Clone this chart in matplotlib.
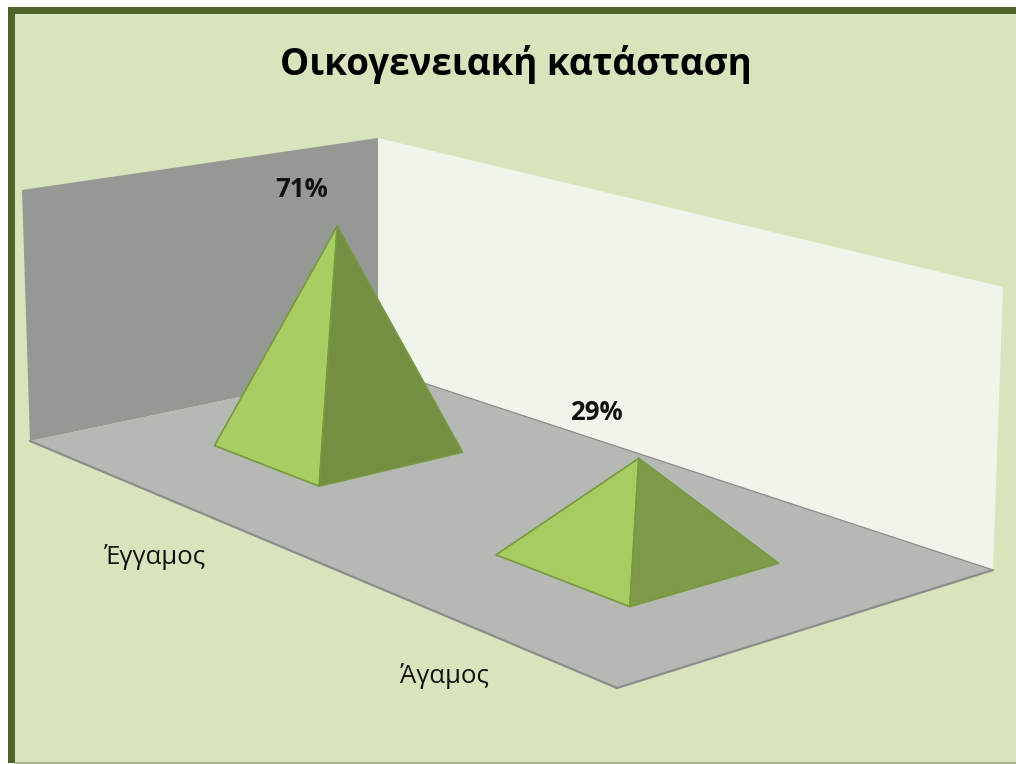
import matplotlib
matplotlib.use("Agg")
import matplotlib.pyplot as plt
from matplotlib.patches import Polygon, Rectangle

# ---- data ----
title = "Οικογενειακή κατάσταση"
categories = ["Έγγαμος", "Άγαμος"]
values = [71, 29]
axis_max = 80

# ---- layout / style ----
W, H = 1016, 764
floor_corners = [(30, 441), (617, 688), (993, 570), (378, 368)]
wall_left_top = (22, 190)
wall_back_top = (378, 138)
wall_right_top = (1003, 287)
slot_u = [0.25, 0.75]
slot_v = 0.503
half_u, half_v = 0.10, 0.20
persp_p, persp_q, persp_r = -7.56, -253.0, -0.02
label_shift = [(-36, -37), (-42, -46)]
cat_shift = [(4, 65), (4, 62)]

C_OUT = "#ffffff"; C_BG = "#d8e4bc"; C_BORDER = "#4f6228"
C_LWALL = "#969893"; C_RWALL = "#eff5eb"; C_FLOOR = "#b6b8b3"; C_FLOOR_EDGE = "#8b8d8c"
C_LIGHT = ["#a9cd62", "#a9cc62"]; C_DARK = ["#758f42", "#7f9b49"]; C_EDGE = "#759a3f"

# ---- projection fitted from the floor quadrilateral ----
(x0, y0), (x1, y1), (x2, y2), (x3, y3) = floor_corners
dx1, dx2, sx = x1 - x2, x3 - x2, x0 - x1 + x2 - x3
dy1, dy2, sy = y1 - y2, y3 - y2, y0 - y1 + y2 - y3
det = dx1 * dy2 - dx2 * dy1
g = (sx * dy2 - dx2 * sy) / det
h = (dx1 * sy - sx * dy1) / det
a, b, c = x1 - x0 + g * x1, x3 - x0 + h * x3, x0
d, e, f = y1 - y0 + g * y1, y3 - y0 + h * y3, y0


def project(u, v, value=0.0):
    z = value / axis_max
    w = g * u + h * v + 1 + persp_r * z
    return ((a * u + b * v + c + persp_p * z) / w,
            (d * u + e * v + f + persp_q * z) / w)


plt.rcParams["font.family"] = ["Open Sans", "Noto Sans", "DejaVu Sans"]
fig = plt.figure(figsize=(W / 100, H / 100), dpi=100, facecolor=C_OUT)
ax = fig.add_axes([0, 0, 1, 1])
ax.set_xlim(0, W)
ax.set_ylim(H, 0)
ax.axis("off")

# chart area
ax.add_patch(Rectangle((8, 7), W, H - 8, fc=C_BORDER, ec="none", zorder=0))
ax.add_patch(Rectangle((15, 14), W, H - 15.5, fc=C_BG, ec="none", zorder=1))
ax.plot([15, W], [763, 763], color="#9aa882", lw=1.2, zorder=1.5)

# walls and floor
back = floor_corners[3]
ax.add_patch(Polygon([wall_left_top, wall_back_top, back, floor_corners[0]], fc=C_LWALL, ec="none", zorder=2))
ax.add_patch(Polygon([wall_back_top, wall_right_top, floor_corners[2], back], fc=C_RWALL, ec="none", zorder=2))
ax.add_patch(Polygon(floor_corners, fc=C_FLOOR, ec="none", zorder=3))
ax.plot([floor_corners[0][0], floor_corners[1][0], floor_corners[2][0]],
        [floor_corners[0][1], floor_corners[1][1], floor_corners[2][1]],
        color=C_FLOOR_EDGE, lw=1.6, zorder=3.1, solid_capstyle="round")
ax.plot([back[0], floor_corners[2][0]], [back[1], floor_corners[2][1]],
        color=C_FLOOR_EDGE, lw=0.9, zorder=3.1)

# pyramids
for i, val in enumerate(values):
    u, v = slot_u[i], slot_v
    left = project(u - half_u, v - half_v)
    front = project(u + half_u, v - half_v)
    right = project(u + half_u, v + half_v)
    apex = project(u, v, val)
    ax.add_patch(Polygon([left, front, apex], fc=C_LIGHT[i], ec=C_EDGE, lw=1.2, joinstyle="round", zorder=5))
    ax.add_patch(Polygon([front, right, apex], fc=C_DARK[i], ec=C_EDGE, lw=1.2, joinstyle="round", zorder=5))
    ax.text(apex[0] + label_shift[i][0], apex[1] + label_shift[i][1], f"{val}%",
            ha="center", va="center", fontsize=18.5, fontweight="bold", color="#111111", zorder=6)
    base = project(u, 0)
    ax.text(base[0] + cat_shift[i][0], base[1] + cat_shift[i][1], categories[i],
            ha="center", va="center", fontsize=18.5, color="#111111", zorder=6)

ax.text(516, 64, title, ha="center", va="center", fontsize=26.5, fontweight="bold", color="#000000", zorder=6)

fig.savefig("out.png", dpi=100, facecolor=C_OUT)
